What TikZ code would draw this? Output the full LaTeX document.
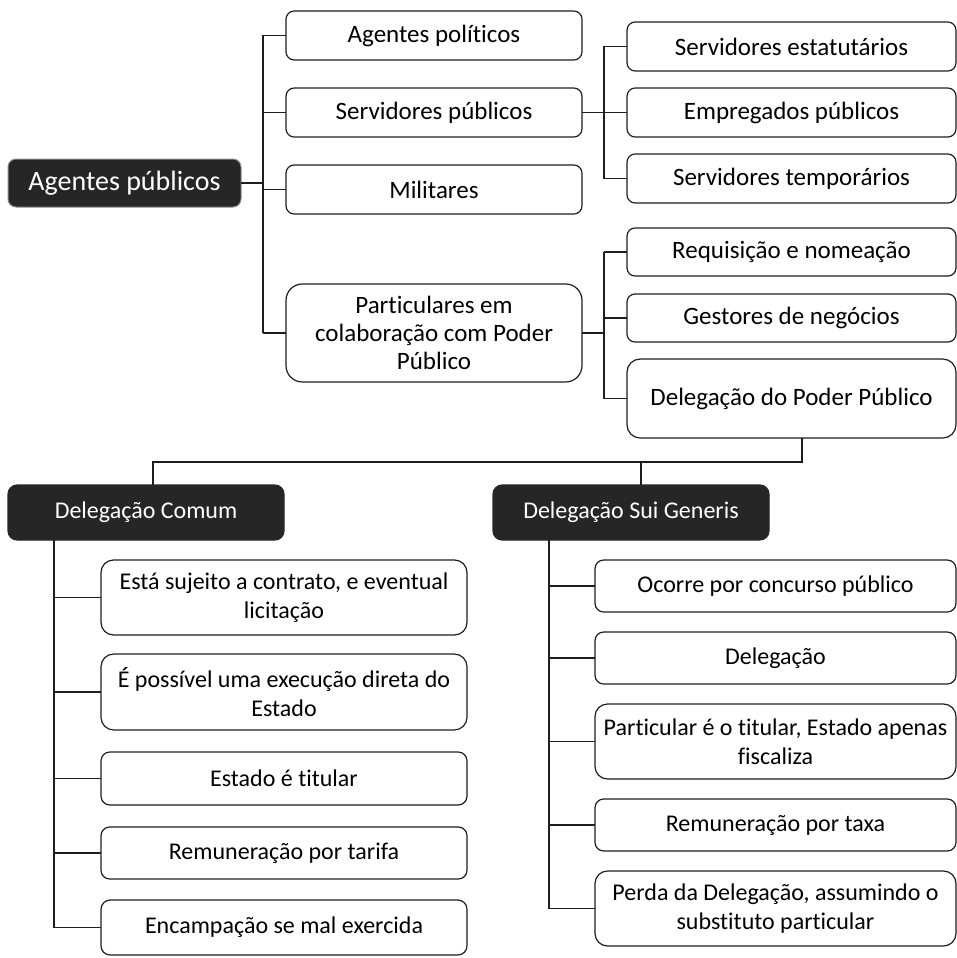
\documentclass[tikz,border=0pt]{standalone}
\usepackage{fontspec}
\setmainfont{Carlito}[Ligatures=NoCommon]
\definecolor{boxdark}{HTML}{262626}
\definecolor{linec}{HTML}{1E1E1E}
\tikzset{
  box/.style={draw=linec, line width=1.2pt, fill=white, inner sep=0pt, outer sep=0pt,
    align=center, text=black, font=\fontsize{25}{28}\selectfont},
  sbox/.style={box, font=\fontsize{24}{29}\selectfont},
  darkbox/.style={box, fill=boxdark, draw=boxdark, text=white, font=\fontsize{24}{29}\selectfont},
  rootbox/.style={box, fill=boxdark, draw=black!45, line width=1pt, text=white, font=\fontsize{28}{33}\selectfont},
  conn/.style={draw=linec, line width=1.5pt},
}
\newcommand\mybx[7]{%
  \pgfmathsetmacro\myW{#3-#2}%
  \pgfmathsetmacro\myH{#5-#4}%
  \pgfmathsetmacro\myR{(#5-#4)/6}%
  \pgfmathsetmacro\myCX{(#2+#3)/2}%
  \pgfmathsetmacro\myCY{-(#4+#5)/2}%
  \node[#6, minimum width=\myW pt, minimum height=\myH pt,
    rounded corners=\myR pt] (#1) at (\myCX pt,\myCY pt) {#7};}
\begin{document}
\begin{tikzpicture}
\useasboundingbox (0,0) rectangle (957pt,-958pt);
% root
\mybx{root}{8}{241}{159}{207}{rootbox}{Agentes públicos}
% level 1
\mybx{ap}{286}{582}{11}{60}{box}{Agentes políticos}
\mybx{sp}{286}{582}{88}{137}{box}{Servidores públicos}
\mybx{mil}{286}{582}{165}{214}{box}{Militares}
\mybx{part}{286}{582}{284}{382}{box}{Particulares em\\colaboração com Poder\\Público}
% level 2
\mybx{se}{627}{956}{22}{71}{box}{Servidores estatutários}
\mybx{ep}{627}{956}{88}{137}{box}{Empregados públicos}
\mybx{st}{627}{956}{154}{203}{box}{Servidores temporários}
\mybx{rn}{627}{956}{228}{276}{box}{Requisição e nomeação}
\mybx{gn}{627}{956}{294}{342}{box}{Gestores de negócios}
\mybx{dpp}{627}{956}{359}{438}{box}{Delegação do Poder Público}
% delegation heads
\mybx{comum}{8}{284}{485}{540}{darkbox}{Delegação Comum}
\mybx{sui}{493}{769}{485}{540}{darkbox}{Delegação Sui Generis}
% comum items
\mybx{ca}{101}{467}{560}{635}{sbox}{Está sujeito a contrato, e eventual\\licitação}
\mybx{cb}{101}{467}{654}{730}{sbox}{É possível uma execução direta do\\Estado}
\mybx{cc}{101}{467}{752}{805}{sbox}{Estado é titular}
\mybx{cd}{101}{467}{827}{879}{sbox}{Remuneração por tarifa}
\mybx{ce}{101}{467}{900}{955}{sbox}{Encampação se mal exercida}
% sui items
\mybx{sa}{595}{956}{560}{612}{sbox}{Ocorre por concurso público}
\mybx{sb}{595}{956}{632}{684}{sbox}{Delegação}
\mybx{sc}{595}{956}{704}{779}{sbox}{Particular é o titular, Estado apenas\\fiscaliza}
\mybx{sd}{595}{956}{799}{851}{sbox}{Remuneração por taxa}
\mybx{sf}{595}{956}{871}{946}{sbox}{Perda da Delegação, assumindo o\\substituto particular}
% connectors: root
\coordinate (j1) at (263pt,-183pt);
\draw[conn] (root.east) -- (j1);
\draw[conn] (j1 |- ap.west) -- (j1 |- part.west);
\foreach \n in {ap,sp,mil,part} \draw[conn] (j1 |- \n.west) -- (\n.west);
% servidores
\coordinate (j2) at (604pt,0);
\draw[conn] (sp.east) -- (j2 |- sp.east);
\draw[conn] (j2 |- se.west) -- (j2 |- st.west);
\foreach \n in {se,ep,st} \draw[conn] (j2 |- \n.west) -- (\n.west);
% particulares
\draw[conn] (part.east) -- (j2 |- part.east);
\draw[conn] (j2 |- rn.west) -- (j2 |- dpp.west);
\foreach \n in {rn,gn,dpp} \draw[conn] (j2 |- \n.west) -- (\n.west);
% delegation split
\coordinate (xd) at (802pt,-462pt);
\coordinate (xc) at (153pt,-462pt);
\coordinate (xs) at (641pt,-462pt);
\draw[conn] (xd |- dpp.south) -- (xd) -- (xc) -- (xc |- comum.north);
\draw[conn] (xs) -- (xs |- sui.north);
% comum trunk
\coordinate (kc) at (54pt,0);
\draw[conn] (kc |- comum.south) -- (kc |- ce.west);
\foreach \n in {ca,cb,cc,cd,ce} \draw[conn] (kc |- \n.west) -- (\n.west);
% sui trunk
\coordinate (ks) at (549pt,0);
\draw[conn] (ks |- sui.south) -- (ks |- sf.west);
\foreach \n in {sa,sb,sc,sd,sf} \draw[conn] (ks |- \n.west) -- (\n.west);
\end{tikzpicture}
\end{document}
